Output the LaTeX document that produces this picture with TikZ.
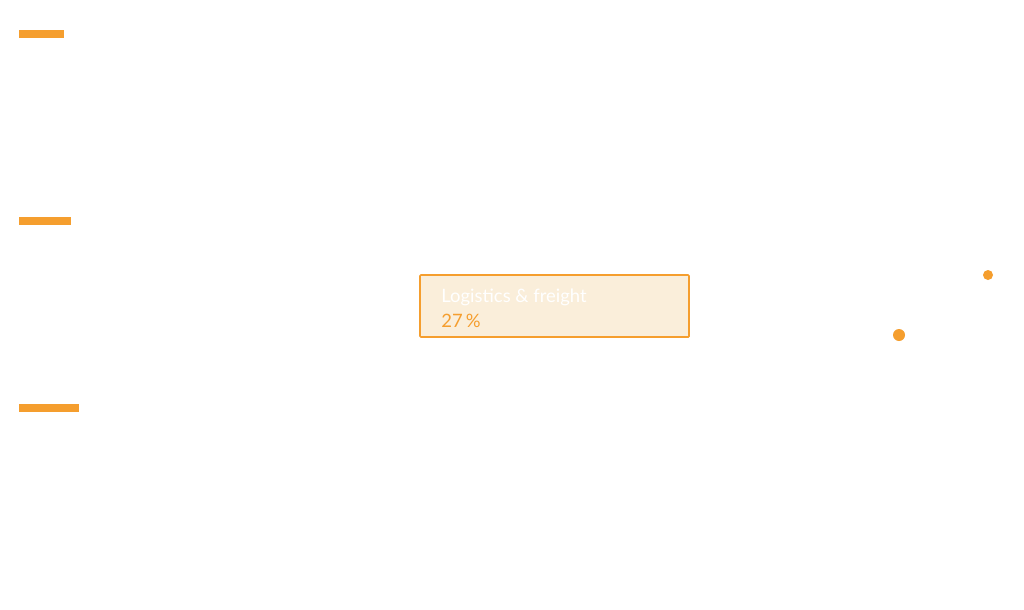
\documentclass[tikz,border=0pt]{standalone}
\usepackage{fontspec}
\setmainfont{Lato}
\usepackage{tikz}
\definecolor{accent}{HTML}{F59E2E}
\definecolor{paleaccent}{HTML}{FAEEDA}
\begin{document}
\begin{tikzpicture}[x=0.02cm,y=-0.02cm]
		\useasboundingbox [fill=white] (0,0) rectangle (1024,609);
		\fill [accent] (19,30) rectangle (64,38); % bar 1
		\fill [accent] (19,217) rectangle (71,225); % bar 2
		\fill [accent] (19,404) rectangle (79,412); % bar 3
		\draw [accent,fill=paleaccent,line width=0.9pt,rounded corners=0.5pt] (420,275) rectangle (689,337);
		\node (label) [anchor=west,inner sep=0pt,text=white,font=\fontsize{10.5}{12}\selectfont] at (441,297) {Logistics \& freight};
		\node (share) [anchor=west,inner sep=0pt,text=accent,font=\fontsize{10.5}{12}\selectfont] at (441,321) {27\,\%};
		\fill [accent] (988,275) circle [radius=5];
		\fill [accent] (899,335) circle [radius=6];
\end{tikzpicture}
\end{document}
